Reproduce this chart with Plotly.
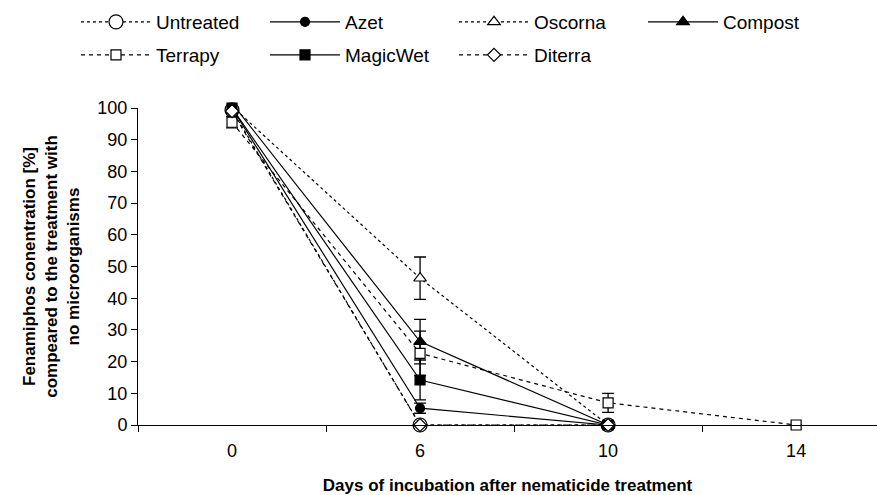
import plotly.graph_objects as go

# Sampling days (categorical axis)
days = ["0", "6", "10", "14"]

# Fenamiphos concentration [%] per treatment
untreated = [99.4, 0, 0]
azet = [100, 5.3, 0]
oscorna = [100.5, 46.3, 0]
compost = [101.5, 26.3, 0]
terrapy = [95.5, 22.6, 7.0, 0]
magicwet = [100, 14.2, 0]
diterra = [99, 0, 0]

# Standard deviations
untreated_err = [1.5, 0, 0]
azet_err = [1.5, 1.6, 0]
oscorna_err = [1.0, 6.7, 0]
compost_err = [1.0, 7.0, 0]
terrapy_err = [1.8, 7.0, 3.0, 0]
magicwet_err = [1.5, 6.3, 0]
diterra_err = [0.5, 0, 0]

FONT = "Liberation Sans, Arial, sans-serif"

series = [
    # name, y, err, dash, symbol, fill, size, legend
    ("Untreated", untreated, untreated_err, "dot", "circle", "white", 14, "legend"),
    ("Azet", azet, azet_err, "solid", "circle", "black", 9, "legend"),
    ("Oscorna", oscorna, oscorna_err, "dot", "triangle-up", "white", 11, "legend"),
    ("Compost", compost, compost_err, "solid", "triangle-up", "black", 11, "legend"),
    ("Terrapy", terrapy, terrapy_err, "4px,4px", "square", "white", 10, "legend2"),
    ("MagicWet", magicwet, magicwet_err, "solid", "square", "black", 10, "legend2"),
    ("Diterra", diterra, diterra_err, "4px,4px", "diamond", "white", 10, "legend2"),
]

fig = go.Figure()
for name, y, err, dash, sym, fill, size, leg in series:
    fig.add_trace(go.Scatter(
        x=days[:len(y)], y=y, name=name, mode="lines+markers",
        line=dict(color="black", width=1.2, dash=dash),
        marker=dict(symbol=sym, size=size, color=fill,
                    line=dict(color="black", width=1.2)),
        error_y=dict(type="data", array=err, visible=True,
                     color="black", thickness=1.3, width=6),
        cliponaxis=False,
        legend=leg,
    ))

legend_common = dict(
    orientation="h", xref="paper", yref="paper",
    xanchor="left", yanchor="middle",
    font=dict(family=FONT, size=19, color="black"),
    itemwidth=70, entrywidth=104, entrywidthmode="pixels",
    bgcolor="rgba(0,0,0,0)", traceorder="normal",
)

fig.update_layout(
    width=877, height=495,
    margin=dict(l=138, r=0, t=108, b=70),
    paper_bgcolor="white", plot_bgcolor="white",
    font=dict(family=FONT, size=17, color="black"),
    legend=dict(x=(76 - 138) / 739, y=1 + (108 - 22) / 317, **legend_common),
    legend2=dict(x=(76 - 138) / 739, y=1 + (108 - 55) / 317, **legend_common),
    xaxis=dict(
        type="category", categoryorder="array", categoryarray=days,
        range=[-0.5, 3.43], tickson="boundaries",
        ticks="outside", ticklen=6, tickcolor="black", tickwidth=1,
        ticklabelstandoff=9,
        showline=True, linecolor="black", linewidth=1, showgrid=False,
        zeroline=False,
        tickfont=dict(family=FONT, size=18, color="black"),
        title=dict(text="<b>Days of incubation after nematicide treatment</b>",
                   font=dict(family=FONT, size=17, color="black"), standoff=20),
    ),
    yaxis=dict(
        range=[0, 100], dtick=10, ticks="outside", ticklen=6,
        tickcolor="black", tickwidth=1,
        showline=True, linecolor="black", linewidth=1, showgrid=False,
        zeroline=False,
        tickfont=dict(family=FONT, size=18, color="black"),
        title=dict(text="<b>Fenamiphos conentration [%]<br>compeared to the treatment with<br>no microorganisms</b>",
                   font=dict(family=FONT, size=17, color="black"), standoff=13),
    ),
)

fig.write_html("out.html")
